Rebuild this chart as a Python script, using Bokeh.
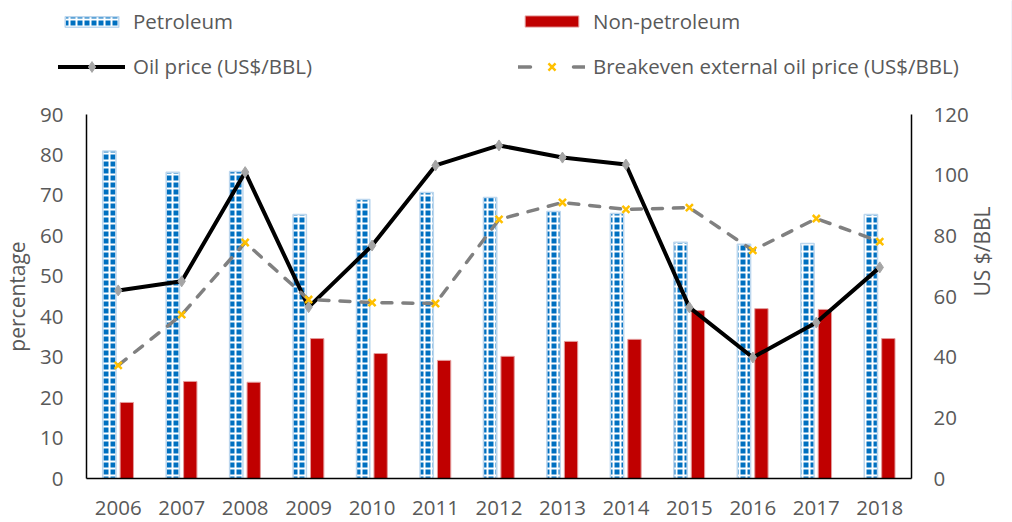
import math
from bokeh.plotting import figure
from bokeh.layouts import column
from bokeh.models import (Range1d, LinearAxis, FixedTicker, Legend, LegendItem,
                          ColumnDataSource, FactorRange)
from bokeh.transform import dodge
from bokeh.embed import file_html
from bokeh.resources import INLINE

years = ["2006", "2007", "2008", "2009", "2010", "2011", "2012",
         "2013", "2014", "2015", "2016", "2017", "2018"]
petroleum = [81.0, 75.7, 75.9, 65.3, 69.0, 70.7, 69.5, 66.0, 65.5, 58.4, 57.9, 58.1, 65.3]
non_petroleum = [18.8, 24.0, 23.8, 34.6, 30.9, 29.2, 30.2, 33.9, 34.4, 41.5, 42.0, 41.8, 34.6]
oil_price = [62.0, 65.0, 101.0, 56.5, 76.8, 103.2, 109.8, 105.8, 103.5, 56.4, 39.9, 51.4, 69.6]
breakeven = [37.3, 54.0, 77.8, 59.0, 58.0, 57.7, 85.4, 91.0, 88.7, 89.3, 75.2, 85.7, 78.1]
left_ticks = [0, 10, 20, 30, 40, 50, 60, 70, 80, 90]
right_ticks = [0, 20, 40, 60, 80, 100, 120]

FONT = "Open Sans"
TXT = "#595959"
FS = "20.5px"
W = 1012
LEG_H = 100
CHART_H = 522 - LEG_H

# styles
PET = dict(fill_color="#0070C0", line_color="#BDD7EE", line_width=1.5,
           hatch_pattern="cross", hatch_color="white", hatch_scale=7, hatch_weight=2)
NONPET = dict(fill_color="#C00000", line_color="#E39B9B", line_width=1)
OIL_LINE = dict(line_color="black", line_width=4, line_cap="round", line_join="round")
OIL_PTS = dict(marker="diamond", size=11, fill_color="#A5A5A5", line_color="#A5A5A5")
BE_LINE = dict(line_color="#808080", line_width=3.5, line_cap="round")
BE_PTS = dict(marker="x", size=10, line_color="#FFC000", line_width=2.5)

src = ColumnDataSource(dict(year=years, pet=petroleum, nonpet=non_petroleum,
                            oil=oil_price, be=breakeven))

# ---------- main chart ----------
p = figure(x_range=FactorRange(*years), y_range=Range1d(0, 90),
           width=W, height=CHART_H, output_backend="svg", toolbar_location=None,
           min_border_left=86, min_border_right=96, min_border_top=114 - LEG_H,
           min_border_bottom=44)
p.frame_align = False
p.extra_y_ranges = {"price": Range1d(0, 120)}
p.outline_line_color = None
p.xgrid.visible = False
p.ygrid.visible = False

right = LinearAxis(y_range_name="price")
p.add_layout(right, "right")

p.yaxis[0].ticker = FixedTicker(ticks=left_ticks)
right.ticker = FixedTicker(ticks=right_ticks)
p.yaxis[0].axis_label = "percentage"
right.axis_label = "US $/BBL"
right.axis_label_orientation = math.pi / 2

for ax in [p.xaxis[0], p.yaxis[0], right]:
    ax.axis_line_color = "black"
    ax.axis_line_width = 1.5
    ax.major_tick_line_color = None
    ax.minor_tick_line_color = None
    ax.major_tick_in = 0
    ax.major_tick_out = 0
    ax.minor_tick_in = 0
    ax.minor_tick_out = 0
    ax.major_label_text_font = FONT
    ax.major_label_text_font_size = FS
    ax.major_label_text_color = TXT
    ax.axis_label_text_font = FONT
    ax.axis_label_text_font_size = "21px"
    ax.axis_label_text_font_style = "normal"
    ax.axis_label_text_color = TXT
p.yaxis[0].major_label_standoff = 23
p.yaxis[0].axis_label_standoff = 6
right.major_label_standoff = 22
right.axis_label_standoff = 10
p.xaxis[0].major_label_standoff = 22

p.vbar(x=dodge("year", -0.14, range=p.x_range), top="pet", width=0.21, source=src, **PET)
p.vbar(x=dodge("year", 0.135, range=p.x_range), top="nonpet", width=0.21, source=src, **NONPET)
p.line(x="year", y="oil", source=src, y_range_name="price", **OIL_LINE)
p.scatter(x="year", y="oil", source=src, y_range_name="price", **OIL_PTS)
p.line(x="year", y="be", source=src, y_range_name="price", line_dash="10 11", **BE_LINE)
p.scatter(x="year", y="be", source=src, y_range_name="price", **BE_PTS)

# ---------- legend strip ----------
lf = figure(width=W, height=LEG_H, x_range=Range1d(0, 1), y_range=Range1d(0, 1),
            x_axis_type=None, y_axis_type=None, output_backend="svg",
            toolbar_location=None, min_border=0)
lf.frame_align = False
lf.outline_line_color = None
# legend-only renderers, positioned outside the visible range
r_pet = lf.vbar(x=[5], top=[5], width=0.1, **PET)
r_non = lf.vbar(x=[5], top=[5], width=0.1, **NONPET)
r_oil_l = lf.line(x=[5, 6], y=[5, 5], **OIL_LINE)
r_oil_p = lf.scatter(x=[5], y=[5], **OIL_PTS)
r_be_l = lf.line(x=[5, 6], y=[5, 5], line_dash="12 43", **BE_LINE)
r_be_p = lf.scatter(x=[5], y=[5], **BE_PTS)


def add_legend(label, renderers, x, center_y, glyph_h):
    item_h = 28
    lg = Legend(items=[LegendItem(label=label, renderers=renderers)],
                location=(x, LEG_H - (center_y + item_h / 2)), orientation="vertical",
                border_line_color=None, background_fill_alpha=0,
                padding=0, margin=0, spacing=0, glyph_width=67, glyph_height=glyph_h,
                label_standoff=8, label_height=item_h, label_text_font=FONT,
                label_text_font_size=FS, label_text_color=TXT)
    lf.add_layout(lg, "center")


add_legend("Petroleum", [r_pet], 58, 21, 13)
add_legend("Non-petroleum", [r_non], 518, 21, 14)
add_legend("Oil price (US$/BBL)", [r_oil_l, r_oil_p], 58, 66, 27)
add_legend("Breakeven external oil price (US$/BBL)", [r_be_l, r_be_p], 518, 66, 25)

layout = column(lf, p, spacing=0)
open("out.html", "w").write(file_html(layout, INLINE))
